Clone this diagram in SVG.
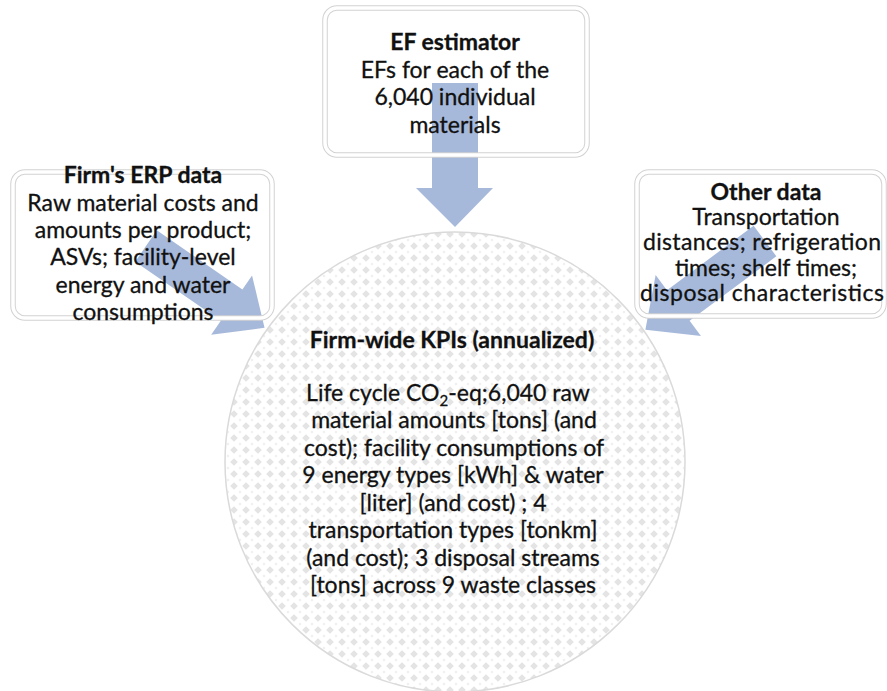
<svg xmlns="http://www.w3.org/2000/svg" width="887" height="691" viewBox="0 0 887 691">
  <style>
    text { font-family: Lato, "Open Sans", "Liberation Sans", sans-serif; fill: #111111; stroke: #111111; stroke-width: 0.3; text-anchor: middle; }
    .head { font-weight: bold; font-size: 23px; }
    .body { font-size: 23px; }
    .frame-out { fill: none; stroke: #d2d2d2; stroke-width: 5.5; }
    .frame-in { fill: none; stroke: #ffffff; stroke-width: 3.5; }
    .arrow { fill: #a7b9da; }
  </style>
  <defs>
    <pattern id="dots" width="12" height="12" patternUnits="userSpaceOnUse">
      <rect width="12" height="12" fill="#ffffff"/>
      <polygon points="6,2.2 9.8,6 6,9.8 2.2,6" fill="#e4e4e4"/>
      <polygon points="0,-1.4 1.4,0 0,1.4 -1.4,0" fill="#eeeeee"/>
      <polygon points="12,-1.4 13.4,0 12,1.4 10.6,0" fill="#eeeeee"/>
      <polygon points="0,10.6 1.4,12 0,13.4 -1.4,12" fill="#eeeeee"/>
      <polygon points="12,10.6 13.4,12 12,13.4 10.6,12" fill="#eeeeee"/>
    </pattern>
  </defs>

  <rect width="887" height="691" fill="#ffffff"/>

  <!-- central KPI disc -->
  <g id="kpis">
    <circle cx="455" cy="462" r="230" fill="url(#dots)" stroke="#dadada" stroke-width="1.5"/>
    <text class="head" x="452" y="348">Firm-wide KPIs (annualized)</text>
    <text class="body" x="448" y="401">Life cycle CO<tspan font-size="15" dy="5">2</tspan><tspan dy="-5">-eq;6,040 raw</tspan></text>
    <text class="body" x="454" y="428">material amounts [tons] (and</text>
    <text class="body" x="454" y="456">cost); facility consumptions of</text>
    <text class="body" x="453" y="483">9 energy types [kWh] &amp; water</text>
    <text class="body" x="453" y="511">[liter] (and cost) ; 4</text>
    <text class="body" x="453" y="538">transportation types [tonkm]</text>
    <text class="body" x="453" y="566">(and cost); 3 disposal streams</text>
    <text class="body" x="453" y="593">[tons] across 9 waste classes</text>
  </g>

  <!-- block arrows feeding the disc -->
  <g id="connectors">
    <polygon class="arrow" points="432,83 478,83 478,188 493,188 455,227 416,188 432,188"/>
    <polygon class="arrow" transform="translate(146,246) rotate(34.6)" points="0,-19 104,-19 104,-36 144,0 104,36 104,19 0,19"/>
    <polygon class="arrow" transform="translate(765,241) rotate(143.4)" points="0,-19 108,-19 108,-38 149,0 108,38 108,19 0,19"/>
  </g>

  <g id="erp">
    <rect class="frame-out" x="13" y="172" width="259" height="146" rx="12"/>
    <rect class="frame-in" x="13" y="172" width="259" height="146" rx="12"/>
    <text class="head" x="143" y="183">Firm's ERP data</text>
    <text class="body" x="143" y="211">Raw material costs and</text>
    <text class="body" x="143" y="238">amounts per product;</text>
    <text class="body" x="143" y="265">ASVs; facility-level</text>
    <text class="body" x="143" y="293">energy and water</text>
    <text class="body" x="143" y="320">consumptions</text>
  </g>

  <g id="ef-estimator">
    <rect class="frame-out" x="325" y="8" width="262" height="147" rx="12"/>
    <rect class="frame-in" x="325" y="8" width="262" height="147" rx="12"/>
    <text class="head" x="455" y="50">EF estimator</text>
    <text class="body" x="455" y="78">EFs for each of the</text>
    <text class="body" x="455" y="105">6,040 individual</text>
    <text class="body" x="455" y="133">materials</text>
  </g>

  <g id="other-data">
    <rect class="frame-out" x="637" y="172" width="247" height="144" rx="12"/>
    <rect class="frame-in" x="637" y="172" width="247" height="144" rx="12"/>
    <text class="head" x="766" y="200">Other data</text>
    <text class="body" x="766" y="225">Transportation</text>
    <text class="body" x="762" y="250" textLength="238">distances; refrigeration</text>
    <text class="body" x="766" y="276">times; shelf times;</text>
    <text class="body" x="762" y="301" textLength="244">disposal characteristics</text>
  </g>
</svg>
